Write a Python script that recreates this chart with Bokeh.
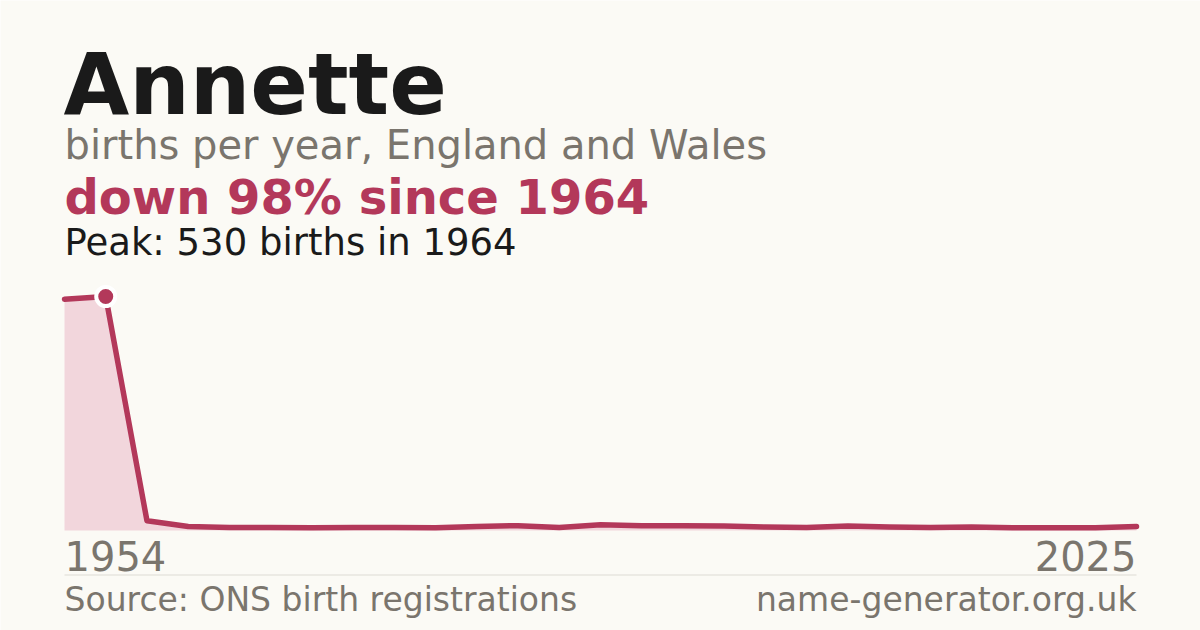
from bokeh.plotting import figure
from bokeh.models import Range1d, Label
from bokeh.embed import file_html
from bokeh.resources import INLINE

# ---- data ----
name = "Annette"
years = [1954, 1964, 2001, 2002, 2003, 2004, 2005, 2006, 2007, 2008, 2009, 2010, 2011,
         2012, 2013, 2014, 2015, 2016, 2017, 2018, 2019, 2020, 2021, 2022, 2023, 2024, 2025]
births = [524, 530, 22, 9, 7, 7, 6, 7, 7, 6, 9, 11, 7,
          13, 11, 11, 10, 8, 7, 10, 8, 7, 8, 6, 6, 6, 9]
subtitle = "births per year, England and Wales"
source = "Source: ONS birth registrations"
site = "name-generator.org.uk"

idx = list(range(len(years)))
peak_i = max(idx, key=lambda i: births[i])
change = round((births[-1] - births[peak_i]) / births[peak_i] * 100)
headline = f"{'down' if change < 0 else 'up'} {abs(change)}% since {years[peak_i]}"
peak_text = f"Peak: {births[peak_i]} births in {years[peak_i]}"

# ---- layout / style ----
W, H = 1200, 630
BG = "#fbfaf5"
RED = "#b3385a"
PINK = "#f2d6dc"
GREY = "#7a756d"
INK = "#1a1a1a"
FONT = "DejaVu Sans"

left_px, right_px = 64, 1136      # px of first / last point
zero_px, peak_px = 530, 296       # px (from top) of 0 and of the peak value
xs = (right_px - left_px) / (len(idx) - 1)
ys = (zero_px - peak_px) / births[peak_i]
x_start = idx[0] - left_px / xs
x_end = x_start + W / xs
y_end = zero_px / ys
y_start = -(H - zero_px) / ys

def X(px):  # pixel -> data x
    return x_start + px / xs

def Y(py):  # pixel (from top) -> data y
    return (zero_px - py) / ys

p = figure(width=W, height=H, output_backend="svg", toolbar_location=None,
           x_range=Range1d(x_start, x_end), y_range=Range1d(y_start, y_end),
           min_border=0, x_axis_location=None, y_axis_location=None,
           background_fill_color=BG, border_fill_color=BG, outline_line_color=None)
p.xgrid.visible = False
p.ygrid.visible = False

p.varea(x=idx, y1=[0] * len(idx), y2=births, fill_color=PINK, fill_alpha=1.0)
p.line(x=idx, y=births, line_color=RED, line_width=5.5, line_join="round", line_cap="round")
p.scatter(x=[idx[peak_i]], y=[births[peak_i]], size=19, fill_color=RED,
          line_color="white", line_width=4)

def label(x, baseline_px, text, size, color, bold=False, align="left"):
    # empirical correction: renderer places alphabetic baseline ~0.38 em lower
    y = Y(baseline_px - 0.38 * size)
    p.add_layout(Label(x=x, y=y, text=text, text_font=FONT, text_font_size=f"{size}px",
                       text_color=color, text_font_style="bold" if bold else "normal",
                       text_align=align, text_baseline="alphabetic"))

label(X(63), 116, name, 85, INK, bold=True)
label(X(64), 160, subtitle, 40, GREY)
label(X(64), 215, headline, 48, RED, bold=True)
label(X(64), 256, peak_text, 37, INK)

label(idx[0], 571, str(years[0]), 40, GREY, align="left")
label(idx[-1], 571, str(years[-1]), 40, GREY, align="right")

p.segment(x0=[X(64)], x1=[X(1136)], y0=[Y(574.5)], y1=[Y(574.5)],
          line_color="#dddbd4", line_width=1)

label(X(64), 612, source, 33, GREY)
label(X(1136), 612, site, 33, GREY, align="right")

open("out.html", "w").write(file_html(p, INLINE))
